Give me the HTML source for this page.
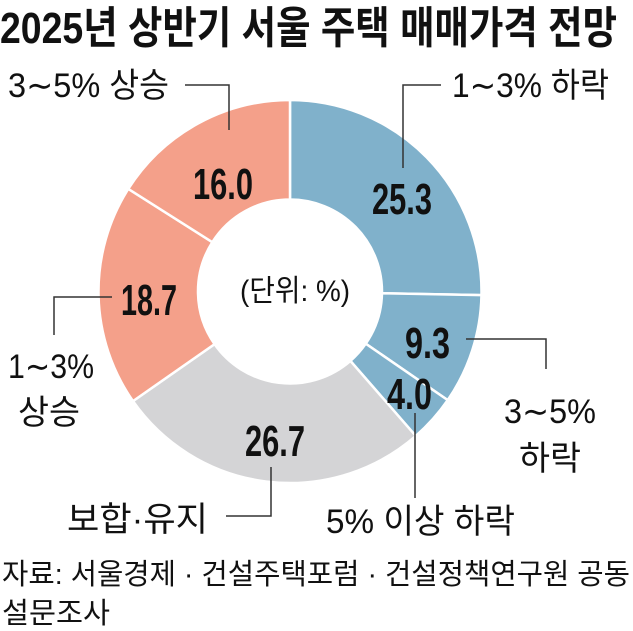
<!DOCTYPE html>
<html><head><meta charset="utf-8"><style>
html,body{margin:0;padding:0;background:#fff;width:633px;height:631px;overflow:hidden}
svg{display:block}
text{font-family:"Liberation Sans","Noto Sans CJK KR","NanumGothic",sans-serif;fill:#111}
</style></head><body>
<svg id="s" width="633" height="631" viewBox="0 0 633 631">
<g id="pie"></g>
<text x="0" y="43" font-size="44" font-weight="bold" textLength="617" lengthAdjust="spacingAndGlyphs">2025년 상반기 서울 주택 매매가격 전망</text>
<g font-size="34">
<text x="8" y="97" textLength="161" lengthAdjust="spacingAndGlyphs">3∼5% 상승</text>
<text x="452" y="97" textLength="157" lengthAdjust="spacingAndGlyphs">1∼3% 하락</text>
<text x="8" y="378" textLength="86" lengthAdjust="spacingAndGlyphs">1∼3%</text>
<text x="18" y="424" textLength="62" lengthAdjust="spacingAndGlyphs">상승</text>
<text x="504" y="423" textLength="92" lengthAdjust="spacingAndGlyphs">3∼5%</text>
<text x="519" y="470" textLength="62" lengthAdjust="spacingAndGlyphs">하락</text>
<text x="67" y="531" textLength="141" lengthAdjust="spacingAndGlyphs">보합·유지</text>
<text x="326" y="533" textLength="189" lengthAdjust="spacingAndGlyphs">5% 이상 하락</text>
</g>
<text x="240" y="301" font-size="30" textLength="110" lengthAdjust="spacingAndGlyphs">(단위: %)</text>
<g font-size="44" font-weight="bold">
<text x="372" y="214" textLength="60" lengthAdjust="spacingAndGlyphs">25.3</text>
<text x="405" y="358" textLength="45" lengthAdjust="spacingAndGlyphs">9.3</text>
<text x="387" y="409" textLength="45" lengthAdjust="spacingAndGlyphs">4.0</text>
<text x="245" y="456" textLength="60" lengthAdjust="spacingAndGlyphs">26.7</text>
<text x="121" y="315" textLength="56" lengthAdjust="spacingAndGlyphs">18.7</text>
<text x="193" y="199" textLength="60" lengthAdjust="spacingAndGlyphs">16.0</text>
</g>
<g stroke="#333" stroke-width="1.5" fill="none">
<polyline points="185,85 229,85 229,130"/>
<polyline points="441,85 403,85 403,168"/>
<polyline points="112,297 54,297 54,335"/>
<polyline points="466,339 546,339 546,369"/>
<polyline points="415,413 415,498"/>
<polyline points="271,467 271,516 226,516"/>
</g>
<g font-size="29">
<text x="2" y="584" textLength="628" lengthAdjust="spacingAndGlyphs">자료: 서울경제 · 건설주택포럼 · 건설정책연구원 공동</text>
<text x="2" y="623" textLength="108" lengthAdjust="spacingAndGlyphs">설문조사</text>
</g>
</svg>
<script>
(function(){
var cx=290,cy=291.5,R=191.5,r=92;
var d=[[25.3,"#80b1cb"],[9.3,"#80b1cb"],[4.0,"#80b1cb"],[26.7,"#d4d4d6"],[18.7,"#f4a08a"],[16.0,"#f4a08a"]];
var g=document.getElementById("pie"),a=0,h="";
function p(rad,t){t=t*Math.PI/180;return (cx+rad*Math.sin(t)).toFixed(2)+","+(cy-rad*Math.cos(t)).toFixed(2);}
d.forEach(function(s){var b=a+s[0]*3.6,l=(b-a)>180?1:0;
h+='<path d="M'+p(R,a)+' A'+R+','+R+' 0 '+l+' 1 '+p(R,b)+' L'+p(r,b)+' A'+r+','+r+' 0 '+l+' 0 '+p(r,a)+' Z" fill="'+s[1]+'" stroke="#fff" stroke-width="2.5"/>';a=b;});
g.innerHTML=h;
})();
</script>
</body></html>
